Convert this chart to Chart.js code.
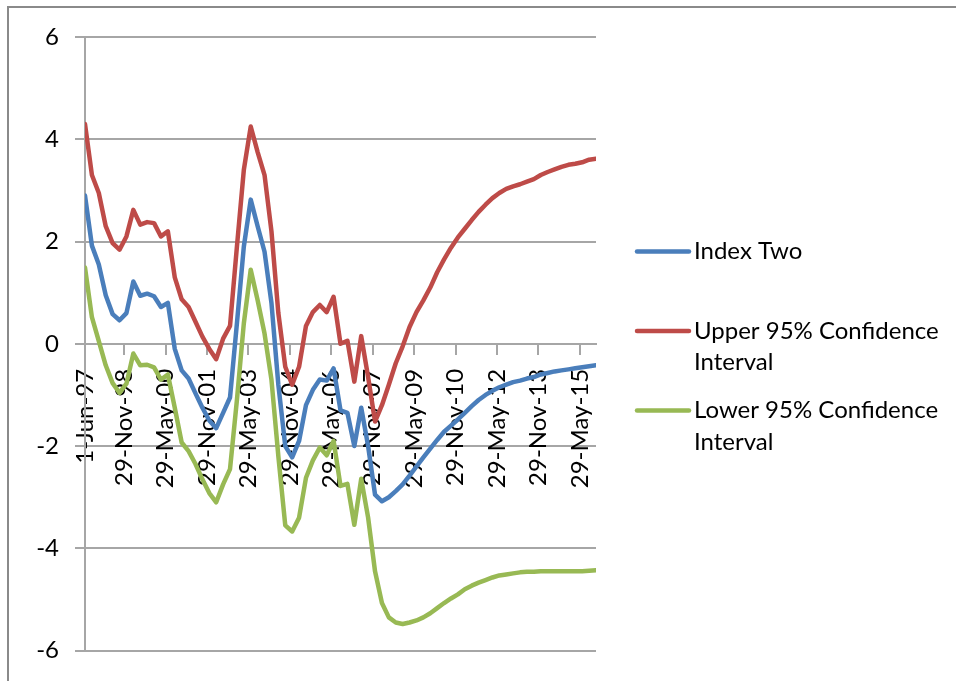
<!DOCTYPE html>
<html>
<head>
<meta charset="utf-8">
<script src="https://cdn.jsdelivr.net/npm/chart.js@4.4.1/dist/chart.umd.min.js"></script>
<style>
  html, body { margin: 0; padding: 0; background: #fff; }
  #wrap { width: 956px; height: 681px; position: relative; }
</style>
</head>
<body>
<div id="wrap"><canvas id="c" width="956" height="681"></canvas></div>
<script>
// Month offsets from 1-Jun-97 of each observation (quarterly)
const months = [0, 3, 6, 9, 12, 15, 18, 21, 24, 27, 30, 33, 36, 39, 42, 45, 48, 51, 54, 57,
  60, 63, 66, 69, 72, 75, 78, 81, 84, 87, 90, 93, 96, 99, 102, 105, 108, 111, 114, 117,
  120, 123, 126, 129, 132, 135, 138, 141, 144, 147, 150, 153, 156, 159, 162, 165, 168, 171, 174, 177,
  180, 183, 186, 189, 192, 195, 198, 201, 204, 207, 210, 213, 216, 219, 222];

// Date labels on the category axis and the month offset where each sits
const tickMonths = [0, 17, 35, 53, 71, 89, 107, 125, 143, 161, 179, 197, 215];
const tickLabels = ['1-Jun-97', '29-Nov-98', '29-May-00', '29-Nov-01', '29-May-03', '29-Nov-04',
  '29-May-06', '29-Nov-07', '29-May-09', '29-Nov-10', '29-May-12', '29-Nov-13', '29-May-15'];

const indexTwo = [2.9, 1.92, 1.55, 0.95, 0.58, 0.46, 0.6, 1.22, 0.94, 0.98,
  0.93, 0.72, 0.8, -0.1, -0.52, -0.68, -0.97, -1.25, -1.5, -1.65,
  -1.35, -1.05, 0.4, 1.9, 2.82, 2.3, 1.8, 0.8, -0.8, -2.0,
  -2.22, -1.9, -1.2, -0.9, -0.7, -0.72, -0.48, -1.3, -1.35, -2.0,
  -1.25, -2.0, -2.95, -3.08, -3.0, -2.88, -2.75, -2.58, -2.4, -2.22,
  -2.05, -1.88, -1.72, -1.6, -1.48, -1.35, -1.22, -1.1, -1.0, -0.92,
  -0.85, -0.8, -0.75, -0.72, -0.68, -0.65, -0.6, -0.57, -0.54, -0.52,
  -0.5, -0.48, -0.46, -0.44, -0.42];

const upper95 = [4.3, 3.3, 2.95, 2.3, 1.97, 1.84, 2.1, 2.62, 2.33, 2.38,
  2.36, 2.1, 2.2, 1.3, 0.87, 0.72, 0.43, 0.14, -0.1, -0.3,
  0.1, 0.35, 1.9, 3.4, 4.25, 3.75, 3.3, 2.2, 0.6, -0.45,
  -0.8, -0.45, 0.35, 0.62, 0.76, 0.62, 0.92, 0.0, 0.06, -0.74,
  0.15, -0.65, -1.52, -1.2, -0.8, -0.38, -0.05, 0.33, 0.62, 0.85,
  1.1, 1.4, 1.65, 1.88, 2.08, 2.25, 2.42, 2.58, 2.72, 2.85,
  2.95, 3.03, 3.08, 3.12, 3.17, 3.22, 3.3, 3.36, 3.41, 3.46,
  3.5, 3.52, 3.55, 3.6, 3.62];

const lower95 = [1.49, 0.52, 0.05, -0.42, -0.77, -0.96, -0.78, -0.19, -0.42, -0.41,
  -0.46, -0.7, -0.6, -1.25, -1.93, -2.1, -2.35, -2.65, -2.92, -3.1,
  -2.75, -2.45, -1.1, 0.4, 1.45, 0.85, 0.2, -0.7, -2.2, -3.55,
  -3.67, -3.4, -2.62, -2.28, -2.03, -2.18, -1.9, -2.78, -2.74, -3.54,
  -2.64, -3.4, -4.45, -5.07, -5.35, -5.45, -5.48, -5.45, -5.41, -5.35,
  -5.27, -5.17, -5.07, -4.98, -4.9, -4.8, -4.73, -4.67, -4.62, -4.57,
  -4.53, -4.51, -4.49, -4.47, -4.46, -4.46, -4.45, -4.45, -4.45, -4.45,
  -4.45, -4.45, -4.45, -4.44, -4.43];

const seriesNames = ['Index Two', 'Upper 95% Confidence Interval', 'Lower 95% Confidence Interval'];
const seriesColors = ['#4A7EBB', '#BE4B48', '#98B954'];
const seriesValues = [indexTwo, upper95, lower95];

const FONT = 'Lato, "Open Sans", sans-serif';
const AXIS_GREY = '#a6a6a6';

// White background with the outer frame along the top and left edges
const framePlugin = {
  id: 'frame',
  beforeDraw(chart) {
    const ctx = chart.ctx;
    ctx.save();
    ctx.fillStyle = '#fff';
    ctx.fillRect(0, 0, chart.width, chart.height);
    ctx.strokeStyle = '#8a8a8a';
    ctx.lineWidth = 2;
    ctx.beginPath();
    ctx.moveTo(8, chart.height);
    ctx.lineTo(8, 7);
    ctx.lineTo(chart.width, 7);
    ctx.stroke();
    ctx.restore();
  }
};

// Legend on the right, wrapping long names onto a second line
const sideLegend = {
  id: 'sideLegend',
  afterDraw(chart) {
    const ctx = chart.ctx;
    const x0 = 637, x1 = 689, tx = 694, maxW = 255;
    const firstY = 251.5, itemStep = 79.5, lineStep = 31.5;
    ctx.save();
    ctx.font = '24px ' + FONT;
    ctx.textBaseline = 'middle';
    ctx.textAlign = 'left';
    chart.data.datasets.forEach((ds, i) => {
      const y = firstY + i * itemStep;
      ctx.strokeStyle = ds.borderColor;
      ctx.lineWidth = 4.5;
      ctx.lineCap = 'round';
      ctx.beginPath();
      ctx.moveTo(x0, y);
      ctx.lineTo(x1, y);
      ctx.stroke();
      const words = ds.label.split(' ');
      const lines = [];
      let cur = '';
      words.forEach(w => {
        const test = cur ? cur + ' ' + w : w;
        if (cur && ctx.measureText(test).width > maxW) { lines.push(cur); cur = w; }
        else cur = test;
      });
      if (cur) lines.push(cur);
      ctx.fillStyle = '#000';
      lines.forEach((t, k) => ctx.fillText(t, tx, y + k * lineStep));
    });
    ctx.restore();
  }
};

function build() {
  const datasets = seriesNames.map((name, i) => ({
    label: name,
    data: months.map((m, k) => ({ x: m, y: seriesValues[i][k] })),
    borderColor: seriesColors[i],
    backgroundColor: seriesColors[i],
    borderWidth: 4.5,
    pointRadius: 0,
    tension: 0,
    borderJoinStyle: 'round',
    borderCapStyle: 'round',
    fill: false,
    order: 3 - i
  }));

  new Chart(document.getElementById('c'), {
    type: 'line',
    data: { datasets },
    plugins: [framePlugin, sideLegend],
    options: {
      responsive: false,
      animation: false,
      devicePixelRatio: 1,
      layout: { padding: { left: 0, top: 37, right: 360, bottom: 24 } },
      plugins: { legend: { display: false }, tooltip: { enabled: false } },
      scales: {
        x: {
          type: 'linear',
          min: 0,
          max: 222,
          position: { y: 0 },
          afterBuildTicks: s => { s.ticks = tickMonths.map(v => ({ value: v })); },
          ticks: {
            autoSkip: false,
            maxRotation: 90,
            minRotation: 90,
            padding: 15,
            color: '#000',
            font: { family: FONT, size: 24 },
            callback: (v, i) => tickLabels[i]
          },
          grid: { drawOnChartArea: false, drawTicks: true, tickLength: 10, color: AXIS_GREY, lineWidth: 2 },
          border: { color: AXIS_GREY, width: 2 }
        },
        y: {
          min: -6,
          max: 6,
          afterFit: s => { s.width = 85; },
          ticks: { stepSize: 2, padding: 16, color: '#000', font: { family: FONT, size: 24 } },
          grid: { color: AXIS_GREY, lineWidth: 2, tickLength: 10 },
          border: { color: AXIS_GREY, width: 2 }
        }
      }
    }
  });
}

if (document.fonts && document.fonts.load) {
  document.fonts.load('24px Lato').then(build, build);
} else {
  build();
}
</script>
</body>
</html>
